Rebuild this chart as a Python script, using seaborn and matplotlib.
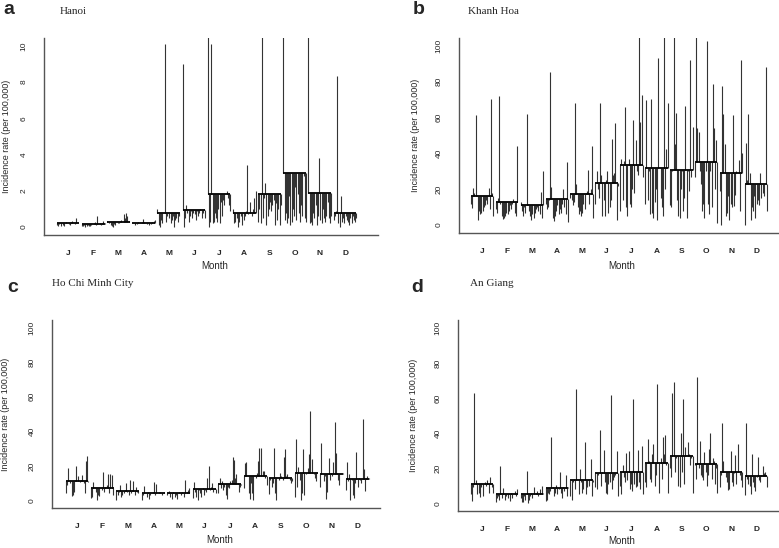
import numpy as np
import seaborn as sns
import matplotlib.pyplot as plt

sns.set_style("white")
plt.rcParams['font.family'] = ['Liberation Sans', 'DejaVu Sans']

month_labels = ['J', 'F', 'M', 'A', 'M', 'J', 'J', 'A', 'S', 'O', 'N', 'D']

# monthly means (horizontal lines)
hanoi_mean = [0.2, 0.15, 0.3, 0.25, 0.8, 0.95, 1.8, 0.8, 1.85, 3.0, 1.9, 0.75]
khanhhoa_mean = [16.5, 13, 11.5, 14.5, 17.5, 23.5, 33.5, 32, 30.5, 35, 29, 23]
hcmc_mean = [11, 7, 5.5, 4.5, 4.5, 6.5, 9.5, 14, 13, 16, 15.5, 12.5]
angiang_mean = [11, 5, 5, 8.5, 13, 17, 18, 23, 27, 22.5, 18, 15.5]

# yearly values for each month (one row per month)
hanoi = [
    [0.1, 0.05, 0.15, 0.25, 0.08, 0.1, 0.05, 0.2, 0.3, 0.22, 0.15, 0.12, 0.28, 0.35, 0.2, 0.18, 0.5, 0.25, 0.22, 0.2],
    [0.05, 0.08, 0.1, 0.02, 0.05, 0.12, 0.08, 0.03, 0.1, 0.15, 0.2, 0.3, 0.12, 0.6, 0.15, 0.2, 0.1, 0.25, 0.35, 0.2],
    [0.35, 0.3, 0.2, 0.1, 0.05, 0.0, 0.15, 0.1, 0.3, 0.25, 0.2, 0.35, 0.4, 0.3, 0.7, 0.5, 0.8, 0.6, 0.35, 0.3],
    [0.2, 0.25, 0.1, 0.2, 0.15, 0.3, 0.25, 0.2, 0.3, 0.45, 0.3, 0.2, 0.15, 0.25, 0.1, 0.2, 0.15, 0.3, 0.35, 0.4],
    [1.0, 0.1, 0.0, 0.4, 0.2, 0.8, 10.1, 0.3, 0.6, 0.8, 0.5, 0.2, 0.4, 0.6, 0.0, 0.4, 0.5, 0.3, 0.6, 0.8],
    [9.0, 0.0, 0.5, 1.2, 0.8, 0.3, 0.6, 0.9, 0.5, 0.8, 0.7, 0.4, 0.9, 0.6, 0.8, 1.0, 0.5, 0.8, 1.0, 0.5],
    [12, 0.0, 0.3, 10.1, 0.2, 0.3, 0.8, 0.5, 0.3, 1.0, 0.2, 1.4, 0.6, 1.5, 1.2, 1.8, 2.0, 1.6, 1.2, 0.9],
    [1.0, 0.2, 0.3, 0.5, 0.0, 0.3, 0.8, 0.6, 0.1, 0.4, 0.6, 0.9, 3.4, 0.7, 1.4, 0.8, 0.6, 1.0, 1.6, 2.0],
    [0.3, 1.0, 0.2, 12, 0.5, 1.6, 2.45, 0.1, 0.6, 1.0, 1.4, 0.9, 1.2, 1.5, 0.1, 1.3, 0.4, 1.0, 0.1, 1.2],
    [12, 0.4, 0.8, 0.2, 0.5, 1.7, 0.1, 0.3, 1.0, 0.6, 2.2, 0.4, 1.8, 0.8, 0.3, 1.2, 0.6, 2.8, 0.5, 0.3],
    [12, 0.2, 0.3, 0.1, 0.8, 0.5, 1.2, 0.1, 0.6, 3.8, 0.4, 0.2, 1.0, 0.5, 0.3, 0.6, 1.4, 0.5, 0.2, 0.6],
    [0.4, 0.6, 0.9, 8.35, 0.2, 0.0, 1.7, 0.3, 0.5, 0.2, 0.6, 0.4, 0.3, 0.1, 0.5, 0.2, 0.6, 0.4, 0.3, 0.5],
]
khanhhoa = [
    [12, 9.5, 20.5, 18, 61.5, 17, 3, 8, 6, 7, 8, 10, 11, 14, 12, 20.5, 9, 70.5, 18, 5],
    [9, 6.5, 15, 72, 12, 5, 3.5, 4, 5, 7, 6, 8, 11, 9, 12, 14.5, 7, 5, 44, 13],
    [13, 8, 5, 10, 7, 62, 12, 8, 5, 3, 6, 4, 7, 9, 10, 8, 6, 18.5, 4, 30],
    [12, 9, 10, 14, 85.5, 21.5, 4, 2.5, 5, 8, 11, 6, 9, 7, 12, 20, 10, 6, 35, 2],
    [15, 14, 11, 13, 68, 23, 10, 6, 8, 5, 7, 12, 9, 18, 19, 31, 12, 20, 44, 4],
    [12, 30, 20, 15, 68, 28, 5, 14, 5, 25, 30, 7, 10, 14, 48, 28, 29, 57, 3, 22],
    [8, 37, 14, 36, 66, 10, 5, 37, 12, 10, 20, 58.6, 18, 47.5, 30, 28, 110, 57.5, 72.6, 27],
    [12, 70, 14, 30, 6, 70.5, 7, 4, 13, 20, 3, 93, 32, 15, 10, 5, 110, 20, 42.5, 68],
    [11, 10, 30, 110, 45, 62.6, 14, 5, 4, 20, 30, 8, 15, 66.5, 4, 30, 19, 92, 27, 55],
    [27, 110, 54, 52, 30, 23, 8, 12, 4, 30, 103, 12, 6, 30, 10, 79, 54, 20, 47.5, 1],
    [19, 0, 77.5, 62, 45.5, 5, 7, 16, 3, 12, 10, 61.5, 10.5, 17, 30, 29, 36.5, 8, 92, 40],
    [0, 46, 25, 62, 29, 3, 10, 8, 16, 4, 12, 14, 11, 29, 15, 18, 16, 23, 88, 8],
]
hcmc = [
    [4.5, 9, 18.7, 11, 10, 2.5, 3, 5, 12, 19.7, 14, 11, 10.5, 12, 14.5, 10, 4, 23, 25.5, 10.5],
    [1.5, 2, 10.5, 7, 5, 0, 3, 2.5, 7, 6, 16.5, 5, 8, 9, 15, 4, 15, 14.5, 3, 7],
    [0.5, 3, 5, 9, 2, 3, 4, 6, 10, 5, 3, 12, 4, 6, 11.5, 3, 8, 5, 4, 5.5],
    [0.5, 3, 8.5, 4, 2, 5, 1, 3, 4, 5, 10.5, 3, 9.5, 4, 5, 5, 4, 3, 5, 4],
    [3, 5.5, 2, 4, 1, 5, 2, 3, 1, 4, 5, 3, 5, 4, 2, 12, 5, 6, 7, 4.5],
    [1.5, 10.5, 5, 2, 0.5, 6, 4, 2, 7, 3, 6, 5, 13, 20, 6, 8, 10, 5, 7, 4],
    [4.5, 13, 7, 11, 6, 8, 3, 1, 8, 7, 11, 12, 25, 23.5, 13, 15, 10, 5, 8, 9],
    [7, 21.5, 22, 14, 4, 1, 10, 4, 0.5, 14, 13, 16, 23, 30.5, 30.5, 14, 17, 17, 13, 9],
    [3.5, 12, 8, 10, 30.5, 4, 0.5, 13, 12, 16, 14, 12, 25, 30, 14, 15, 13, 12, 10, 11],
    [2, 35.5, 8, 19.5, 12, 0.5, 4, 30, 3, 15, 16, 19, 27, 51.5, 24, 16, 15, 13, 11, 16],
    [7.5, 33, 15, 11, 14, 1, 5, 24.5, 12, 16, 14, 22, 45.5, 27.5, 16, 12, 9, 15, 15, 16],
    [6, 22.5, 11, 15, 0, 12, 3, 1.5, 10, 28, 8, 13, 12, 10, 47, 18, 5.5, 13, 14, 13],
]
angiang = [
    [5, 1.5, 9, 63, 13, 5, 11, 6, 3.5, 9, 4, 11, 12, 10, 13, 6, 15, 11, 9, 6],
    [0.5, 3, 4, 2, 21, 3, 8.5, 5, 2, 4, 3, 5, 1.5, 6, 3, 5, 7, 4, 8, 5],
    [3, 0.5, 1, 4, 2, 18.5, 0, 2, 4, 6, 3, 9, 5, 6, 7, 4, 8, 5, 10, 6],
    [1.5, 2, 6, 5, 7, 37.5, 9, 4, 6, 10.5, 5, 8, 18, 6, 3, 9, 7, 16, 4, 9],
    [4, 2, 12, 14, 8, 65, 13, 5, 19.5, 12, 6, 8, 35, 5, 9, 13, 10, 25.5, 4, 12],
    [9, 8, 16, 17, 41.5, 10, 18, 30.5, 12, 6, 5, 11, 12, 61.5, 8, 13, 15, 16, 30, 4],
    [10, 5, 22, 15, 12, 28.5, 13, 30, 8, 11, 7, 59.5, 11, 9, 10, 30.5, 12, 8, 32.5, 5],
    [12, 9, 36.5, 24, 14, 12, 28, 34, 10, 16, 68, 23, 6, 26, 14, 37.5, 28, 39, 22, 6],
    [20, 15, 63, 69, 18, 26, 27, 10, 9, 40, 18, 59.5, 11, 32, 27, 35, 28, 22, 26, 6],
    [22, 14, 72, 20, 35.5, 16, 15, 13, 29, 18, 10, 16, 31, 40, 14, 26, 24, 11, 20, 6],
    [9, 16, 46, 24, 18, 15, 12, 7.5, 8, 30, 12, 10, 17, 27.5, 11, 33.5, 18, 16, 13, 9],
    [4.5, 45.5, 14, 11, 10, 5, 28, 12, 9, 7, 15, 26.5, 13, 12, 16, 21, 17, 18, 16, 9],
]

W, H = 779, 548
fig = plt.figure(figsize=(W / 100, H / 100), dpi=100)

panels = [
    # letter, title, data, means, ymax, yticks, box (l, r, t, b) in px, xlim, ylabel x px, xlabel y px
    ('a', 'Hanoi', hanoi, hanoi_mean, 10, [0, 2, 4, 6, 8, 10],
     (44, 378, 38, 235), (0.047, 13.31), 7, 266, (3, 10), (60, 12)),
    ('b', 'Khanh Hoa', khanhhoa, khanhhoa_mean, 100, [0, 20, 40, 60, 80, 100],
     (459, 778, 38, 233), (0.076, 12.88), 415, 266, (413, 10), (468, 12)),
    ('c', 'Ho Chi Minh City', hcmc, hcmc_mean, 100, [0, 20, 40, 60, 80, 100],
     (52, 380, 320, 508), (0.018, 12.9), 5, 540, (7, 288), (52, 284)),
    ('d', 'An Giang', angiang, angiang_mean, 100, [0, 20, 40, 60, 80, 100],
     (458, 778, 320, 511), (0.036, 12.88), 414, 541, (411, 288), (470, 284)),
]

for letter, title, data, means, ymax, yticks, box, xlim, ylx, xly, letpos, titpos in panels:
    l, r, t, b = box
    ax = fig.add_axes([l / W, 1 - b / H, (r - l) / W, (b - t) / H])
    pad = ymax * 0.044
    for i in range(12):
        vals = np.array(data[i])
        xs = i + 1 + np.linspace(-0.45, 0.45, len(vals))
        ax.vlines(xs, means[i], vals, color='#333333', lw=0.8)
        ax.hlines(means[i], i + 1 - 0.45, i + 1 + 0.45, color='black', lw=1.3)
    ax.set_xlim(*xlim)
    ax.set_ylim(-pad, ymax + pad)
    ax.set_xticks(range(1, 13))
    ax.set_xticklabels(month_labels, fontsize=6, fontweight='bold')
    ax.set_yticks(yticks)
    ax.set_yticklabels([str(v) for v in yticks], fontsize=6, rotation=90, va='center')
    ax.tick_params(axis='both', direction='out', length=4, width=0.8, color='#444444')
    ax.tick_params(axis='y', pad=8)
    ax.tick_params(axis='x', pad=7)
    for side in ['top', 'right']:
        ax.spines[side].set_visible(False)
    for side in ['left', 'bottom']:
        ax.spines[side].set_color('#555555')
        ax.spines[side].set_linewidth(1.0)
    ax.set_ylabel('Incidence rate (per 100,000)', fontsize=6.5, va='center')
    ax.yaxis.set_label_coords((ylx - l) / (r - l), 0.5)
    ax.set_xlabel('Month', fontsize=7, va='center')
    ax.xaxis.set_label_coords(0.51, (b - xly) / (b - t))
    fig.text(letpos[0] / W, 1 - letpos[1] / H, letter, fontsize=14, fontweight='bold',
             va='center', ha='left')
    fig.text(titpos[0] / W, 1 - titpos[1] / H, title, fontsize=8, family='Liberation Serif',
             va='center', ha='left')

fig.savefig('out.png', dpi=100)
